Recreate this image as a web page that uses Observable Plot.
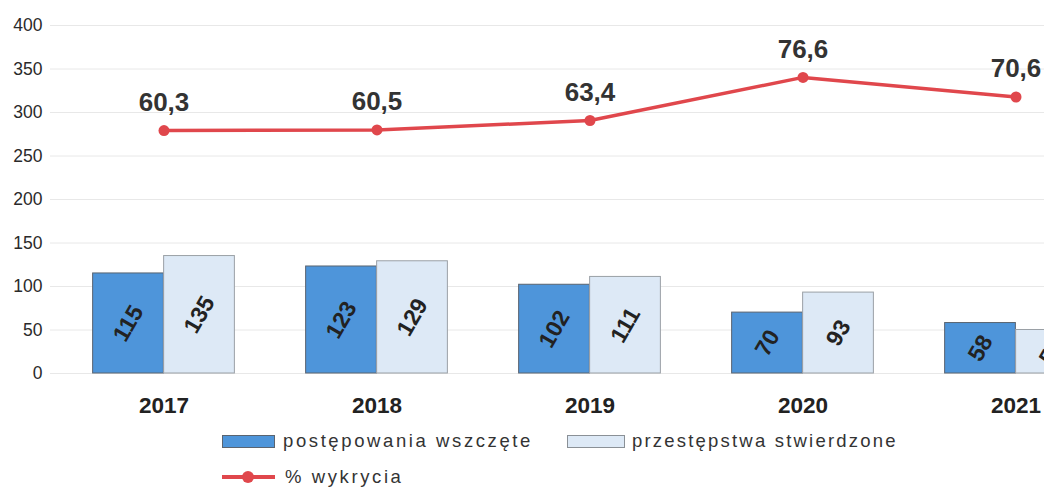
<!DOCTYPE html>
<html>
<head>
<meta charset="utf-8">
<script src="https://cdn.jsdelivr.net/npm/d3@7"></script>
<script src="https://cdn.jsdelivr.net/npm/@observablehq/plot@0.6"></script>
<style>
  html, body { margin: 0; padding: 0; background: #fff; width: 1044px; height: 488px; overflow: hidden; }
  body { font-family: "Liberation Sans", Arial, sans-serif; }
  #legend { position: relative; width: 1044px; height: 68px; color: #333; font-size: 18.5px; letter-spacing: 2.6px; }
  #legend .sw { position: absolute; box-sizing: border-box; }
  #legend .lbl { position: absolute; line-height: 20px; white-space: nowrap; }
</style>
</head>
<body>
<div id="chart"></div>
<div id="legend"></div>
<script>
// ---- data ----
const years = ["2017", "2018", "2019", "2020", "2021"];
const wszczete = [115, 123, 102, 70, 58];          // postępowania wszczęte
const stwierdzone = [135, 129, 111, 93, 50];       // przestępstwa stwierdzone
const wykrycie = [60.3, 60.5, 63.4, 76.6, 70.6];   // % wykrycia
const yTicks = [0, 50, 100, 150, 200, 250, 300, 350, 400];
const yDomain = [0, 400];
const pctAxisDomain = [-14.1, 92.5]; // hidden secondary axis for % wykrycia
const seriesNames = ["postępowania wszczęte", "przestępstwa stwierdzone", "% wykrycia"];

const colBlue = "#4e95da", colLight = "#dde9f6", colRed = "#e0474c";

const barsA = years.map((y, i) => ({year: y, value: wszczete[i]}));
const barsB = years.map((y, i) => ({year: y, value: stwierdzone[i]}));
const pctScale = d3.scaleLinear().domain(pctAxisDomain).range(yDomain);
const line = years.map((y, i) => ({year: y, pct: wykrycie[i], yv: pctScale(wykrycie[i])}));

const W = 1044, H = 420;
const step = 213.25, firstCenter = 163;
const x0 = firstCenter - step / 2;
const halfBand = step / 2, barW = 71;
const innerInset = halfBand - barW; // gap from band edge to the bar pair

const fmt = v => v.toFixed(1).replace(".", ",");

const chart = Plot.plot({
  width: W,
  height: H,
  marginLeft: 50,
  marginRight: 0,
  marginTop: 25,
  marginBottom: 47,
  style: {fontFamily: "'Liberation Sans', Arial, sans-serif", background: "#fff", color: "#333"},
  x: {domain: years, range: [x0, x0 + step * years.length], padding: 0, axis: null},
  y: {domain: yDomain, axis: null},
  marks: [
    Plot.ruleY(yTicks, {stroke: "#e8e8e8", strokeWidth: 1}),
    Plot.text(yTicks, {y: d => d, text: d => String(d), frameAnchor: "left", dx: -8, textAnchor: "end", fontSize: 17.5, fill: "#2a2a2a"}),
    Plot.barY(barsA, {x: "year", y: "value", fill: colBlue, stroke: "#5a6470", strokeWidth: 1, insetLeft: innerInset, insetRight: halfBand}),
    Plot.barY(barsB, {x: "year", y: "value", fill: colLight, stroke: "#9aa0a6", strokeWidth: 1, insetLeft: halfBand, insetRight: innerInset}),
    Plot.text(barsA, {x: "year", y: d => d.value / 2, text: d => String(d.value), dx: -barW / 2, rotate: -60, fontSize: 23, fontWeight: "bold", fill: "#222"}),
    Plot.text(barsB, {x: "year", y: d => d.value / 2, text: d => String(d.value), dx: barW / 2, rotate: -60, fontSize: 23, fontWeight: "bold", fill: "#222"}),
    Plot.line(line, {x: "year", y: "yv", stroke: colRed, strokeWidth: 3.5}),
    Plot.dot(line, {x: "year", y: "yv", r: 5.5, fill: colRed, stroke: "none"}),
    Plot.text(line, {x: "year", y: "yv", text: d => fmt(d.pct), dy: -28, fontSize: 26, fontWeight: "bold", fill: "#333"}),
    Plot.text(years, {x: d => d, y: 0, text: d => d, dy: 32, fontSize: 22.5, fontWeight: "bold", fill: "#222"})
  ]
});
document.getElementById("chart").appendChild(chart);

// ---- legend (HTML, below the SVG) ----
const lg = document.getElementById("legend");
function add(html) { lg.insertAdjacentHTML("beforeend", html); }
add(`<div class="sw" style="left:222px; top:15px; width:53px; height:13px; background:${colBlue}; border:1px solid #5a6470;"></div>`);
add(`<div class="lbl" style="left:283px; top:11px;">${seriesNames[0]}</div>`);
add(`<div class="sw" style="left:567px; top:15px; width:58px; height:13px; background:${colLight}; border:1px solid #8a9096;"></div>`);
add(`<div class="lbl" style="left:632px; top:11px; letter-spacing:2.2px;">${seriesNames[1]}</div>`);
add(`<div class="sw" style="left:222px; top:55px; width:53px; height:4px; background:${colRed};"></div>`);
add(`<div class="sw" style="left:242px; top:51px; width:12px; height:12px; border-radius:6px; background:${colRed};"></div>`);
add(`<div class="lbl" style="left:285px; top:47px;">${seriesNames[2]}</div>`);
</script>
</body>
</html>
